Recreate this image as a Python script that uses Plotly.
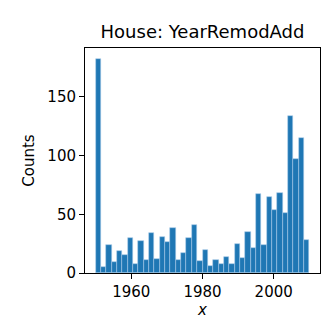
import numpy as np
import plotly.graph_objects as go

# Histogram of YearRemodAdd: 40 bins between 1950 and 2010
bin_start = 1950
bin_width = 1.5
counts = [182, 5, 24, 9, 19, 15, 30, 8, 27, 11,
          34, 12, 31, 26, 38, 11, 17, 30, 41, 10,
          20, 6, 11, 8, 14, 8, 25, 13, 35, 21,
          67, 24, 65, 54, 68, 51, 134, 97, 115, 28]
x_ticks = [1960, 1980, 2000]
y_ticks = [0, 50, 100, 150]

centers = [bin_start + bin_width * (i + 0.5) for i in range(len(counts))]

fig = go.Figure()
fig.add_trace(go.Bar(
    x=centers, y=counts, width=bin_width,
    marker=dict(color="#1f77b4", line=dict(color="rgba(173,205,235,0.9)", width=0.6)),
))

axis_style = dict(
    showline=True, linecolor="black", linewidth=1, mirror=True,
    ticks="outside", ticklen=5, tickwidth=1, tickcolor="black",
    showgrid=False, zeroline=False,
    tickfont=dict(family="DejaVu Sans", size=15, color="black"),
)

fig.update_layout(
    width=329, height=329,
    margin=dict(l=77, r=17, t=40, b=64),
    plot_bgcolor="white", paper_bgcolor="white",
    showlegend=False, bargap=0,
    font=dict(family="DejaVu Sans", color="black"),
    title=dict(text="House: YearRemodAdd", x=0.5, xanchor="center",
               xref="paper", y=0.927, yanchor="middle",
               font=dict(size=18, family="DejaVu Sans", color="black")),
    xaxis=dict(range=[1947, 2013], tickvals=x_ticks,
               title=dict(text="<i>x</i>", font=dict(size=15, family="DejaVu Sans"), standoff=4),
               **axis_style),
    yaxis=dict(range=[0, 191.5], tickvals=y_ticks,
               title=dict(text="Counts", font=dict(size=15, family="DejaVu Sans"), standoff=9),
               **axis_style),
)

fig.write_html("out.html")
